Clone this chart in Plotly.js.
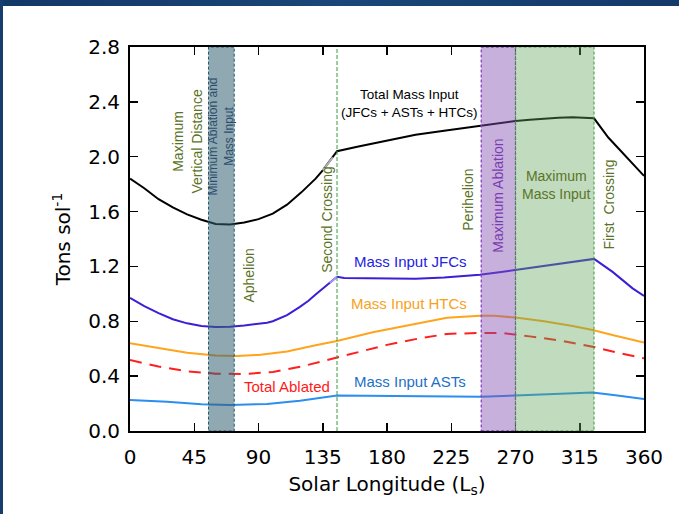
<!DOCTYPE html>
<html>
<head>
<meta charset="utf-8">
<script src="https://cdn.plot.ly/plotly-3.0.1.min.js"></script>
<style>
  html, body { margin:0; padding:0; background:#fff; }
  #chart { width:679px; height:514px; position:relative; }
  #topbar { position:absolute; left:0; top:0; width:679px; height:6px; background:linear-gradient(90deg,#123867,#1a4679,#133a69); z-index:10; }
  #leftbar { position:absolute; left:0; top:0; width:3px; height:514px; background:#163d6e; z-index:10; }
</style>
</head>
<body>
<div id="chart"></div>
<div id="topbar"></div>
<div id="leftbar"></div>
<script>
// Solar longitude (deg) and values (Tons per sol)
const totalX = [0,10,20,30,40,50,60,70,80,90,100,110,120,130,135,140,142,145,160,180,200,220,240,260,270,280,290,300,310,320,325,335,345,355,360];
const totalY = [1.84,1.77,1.69,1.63,1.58,1.54,1.51,1.505,1.52,1.545,1.585,1.65,1.74,1.84,1.90,1.97,1.995,2.04,2.075,2.12,2.16,2.19,2.22,2.25,2.26,2.27,2.28,2.285,2.288,2.283,2.28,2.14,2.03,1.92,1.86];

const jfcX = [0,10,20,26,30,40,50,60,70,80,90,96,100,105,110,119,125,130,135,140,145,150,175,200,220,245,260,270,290,310,325,338,352,360];
const jfcY = [0.97,0.91,0.86,0.83,0.815,0.785,0.765,0.758,0.76,0.77,0.782,0.79,0.8,0.82,0.845,0.905,0.95,0.995,1.04,1.08,1.125,1.115,1.115,1.11,1.12,1.14,1.16,1.175,1.20,1.235,1.255,1.16,1.04,0.985];

const htcX = [0,20,40,60,75,90,110,130,145,170,189,198,222,245,255,270,290,310,324,340,360];
const htcY = [0.64,0.605,0.57,0.55,0.547,0.555,0.58,0.625,0.657,0.72,0.76,0.78,0.825,0.84,0.84,0.827,0.80,0.765,0.737,0.695,0.645];

const ablX = [0,20,40,60,80,100,120,145,165,180,200,222,245,260,280,300,315,324,340,360];
const ablY = [0.518,0.47,0.435,0.418,0.416,0.43,0.47,0.535,0.59,0.628,0.67,0.708,0.715,0.715,0.69,0.662,0.633,0.615,0.575,0.53];

const astX = [0,26,50,70,96,119,145,180,220,246,270,300,324,340,360];
const astY = [0.226,0.214,0.195,0.19,0.197,0.22,0.258,0.255,0.25,0.25,0.258,0.27,0.28,0.26,0.233];

const xTicks = [0,45,90,135,180,225,270,315,360];
const yTicks = [0.0,0.4,0.8,1.2,1.6,2.0,2.4,2.8];
const yTickLabels = ["0.0","0.4","0.8","1.2","1.6","2.0","2.4","2.8"];

// Event bands (deg)
const minBand = [55,73];
const secondCrossing = 145;
const ablBand = [246,270];
const massBand = [270,325];

function seg(xs, ys, a, b) {
  const ox = [], oy = [];
  xs.forEach((x,i) => { if (x >= a && x <= b) { ox.push(x); oy.push(ys[i]); } });
  return {x: ox, y: oy};
}

const olive = '#5b7327';
const traces = [
  {x: totalX, y: totalY, mode:'lines', line:{color:'#000000', width:2}},
  {x: jfcX, y: jfcY, mode:'lines', line:{color:'#3a1fd6', width:2}},
  {x: htcX, y: htcY, mode:'lines', line:{color:'#ffa41c', width:2}},
  {x: ablX, y: ablY, mode:'lines', line:{color:'#ff1f1f', width:2, dash:'12px,8px'}},
  {x: astX, y: astY, mode:'lines', line:{color:'#2b8ef0', width:2}}
];
const g1 = seg(totalX, totalY, 135, 142);
traces.push({x:g1.x, y:g1.y, mode:'lines', line:{color:'#b0b0b0', width:2}});
const g2 = seg(jfcX, jfcY, 140, 145);
traces.push({x:g2.x, y:g2.y, mode:'lines', line:{color:'#a898f2', width:2}});

const shapes = [
  {type:'rect', xref:'x', yref:'y', x0:minBand[0], x1:minBand[1], y0:0, y1:2.8, layer:'above',
   fillcolor:'rgba(51,97,115,0.55)', line:{color:'#1f5a70', width:1, dash:'3px,2px'}},
  {type:'line', xref:'x', yref:'y', x0:secondCrossing, x1:secondCrossing, y0:0, y1:2.8, layer:'above',
   line:{color:'#3a9a3a', width:1, dash:'4px,2px'}},
  {type:'rect', xref:'x', yref:'y', x0:ablBand[0], x1:ablBand[1], y0:0, y1:2.8, layer:'above',
   fillcolor:'rgba(133,79,177,0.45)', line:{color:'#8a3fc8', width:1.3, dash:'3px,2px'}},
  {type:'rect', xref:'x', yref:'y', x0:massBand[0], x1:massBand[1], y0:0, y1:2.8, layer:'above',
   fillcolor:'rgba(97,165,90,0.40)', line:{color:'#3a9a3a', width:1, dash:'3px,2px'}}
];

const F = 'Liberation Sans, Arial, sans-serif';
function ann(text, x, y, color, size, angle) {
  return {text:text, x:x, y:y, xref:'x', yref:'y', showarrow:false, textangle:angle||0,
          font:{family:F, size:size, color:color}, xanchor:'center', yanchor:'middle'};
}
const annotations = [
  ann('Maximum<br>Vertical Distance', 39.9, 2.11, olive, 14, -90),
  ann('Minimum Ablation and<br>Mass Input', 64, 2.15, '#2e4d6b', 12, -90),
  ann('Aphelion', 83.3, 1.14, olive, 14, -90),
  ann('Second Crossing', 138, 1.54, olive, 14, -90),
  ann('Perihelion', 236.7, 1.686, olive, 14, -90),
  ann('Maximum Ablation', 257.7, 1.715, '#7a3cb0', 14, -90),
  ann('Maximum<br>Mass Input', 299, 1.796, olive, 14, 0),
  ann('First  Crossing', 335.4, 1.65, olive, 14, -90),
  ann('Total Mass Input<br>(JFCs + ASTs + HTCs)', 196, 2.387, '#000000', 13.5, 0),
  ann('Mass Input JFCs', 196.8, 1.234, '#2323e0', 15, 0),
  ann('Mass Input HTCs', 195.7, 0.927, '#f7a21b', 15, 0),
  ann('Total Ablated', 110, 0.321, '#ff1a1a', 15, 0),
  ann('Mass Input ASTs', 196, 0.358, '#1c70c8', 15, 0)
];

const TF = 'DejaVu Sans, sans-serif';
const layout = {
  width:679, height:514,
  margin:{l:130, r:35, t:47, b:83},
  paper_bgcolor:'#ffffff', plot_bgcolor:'#ffffff',
  showlegend:false,
  xaxis:{range:[0,360], tickvals:xTicks, ticktext:xTicks.map(String), ticks:'inside', ticklen:8, tickwidth:1.5,
         tickcolor:'#000', showline:true, linecolor:'#000', linewidth:2, mirror:'ticks', showgrid:false, zeroline:false,
         tickfont:{family:TF, size:20, color:'#000'}, ticklabelstandoff:7,
         title:{text:'Solar Longitude (L<sub>s</sub>)', font:{family:TF, size:20, color:'#000'}, standoff:9}},
  yaxis:{range:[0,2.8], tickvals:yTicks, ticktext:yTickLabels, ticks:'inside', ticklen:8, tickwidth:1.5,
         tickcolor:'#000', showline:true, linecolor:'#000', linewidth:2, mirror:'ticks', showgrid:false, zeroline:false,
         tickfont:{family:TF, size:20, color:'#000'}, ticklabelstandoff:4,
         title:{text:'Tons sol<sup>-1</sup>', font:{family:TF, size:20, color:'#000'}, standoff:12}},
  shapes:shapes,
  annotations:annotations
};
Plotly.newPlot('chart', traces, layout, {displayModeBar:false, staticPlot:true});
</script>
</body>
</html>
